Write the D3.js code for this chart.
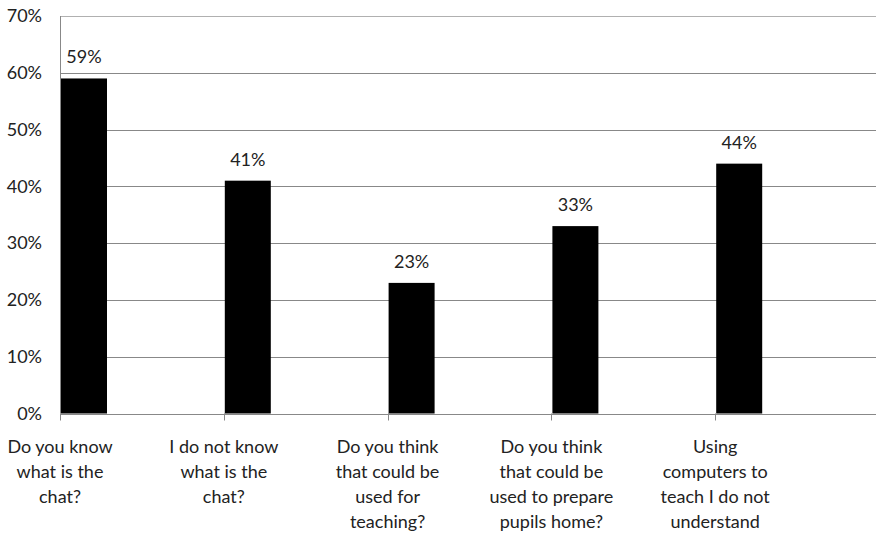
<!DOCTYPE html>
<html>
<head>
<meta charset="utf-8">
<script src="https://cdn.jsdelivr.net/npm/d3@7"></script>
<style>
  body { margin: 0; background: #fff; }
  text { font-family: Lato, "Open Sans", sans-serif; fill: #222; }
</style>
</head>
<body>
<script>
var categories = [
  ["Do you know", "what is the", "chat?"],
  ["I do not know", "what is the", "chat?"],
  ["Do you think", "that could be", "used for", "teaching?"],
  ["Do you think", "that could be", "used to prepare", "pupils home?"],
  ["Using", "computers to", "teach I do not", "understand"]
];
var values = [59, 41, 23, 33, 44];
var yTicks = [0, 10, 20, 30, 40, 50, 60, 70];

var width = 876, height = 533;
var plot = {left: 60, right: 879, top: 16, bottom: 413.5};

var svg = d3.select("body").append("svg")
    .attr("width", width)
    .attr("height", height);

var keys = categories.map(function (d, i) { return i; });

var xScale = d3.scaleBand()
    .domain(keys)
    .range([plot.left, plot.right])
    .paddingInner(0)
    .paddingOuter(0);

var yScale = d3.scaleLinear()
    .domain([0, 70])
    .range([plot.bottom, plot.top]);

// gridlines
svg.append("g")
    .selectAll("line")
    .data(yTicks)
    .enter()
    .append("line")
    .attr("x1", plot.left)
    .attr("x2", width)
    .attr("y1", function (d) { return Math.round(yScale(d)) + 0.5; })
    .attr("y2", function (d) { return Math.round(yScale(d)) + 0.5; })
    .attr("stroke", function (d) { return d === 70 ? "#b0b0b0" : "#888"; })
    .attr("stroke-width", 1.2);

// y labels
svg.append("g")
    .selectAll("text")
    .data(yTicks)
    .enter()
    .append("text")
    .attr("x", 42)
    .attr("y", function (d) { return yScale(d); })
    .attr("dy", "0.35em")
    .attr("text-anchor", "end")
    .style("font-size", "18px")
    .text(function (d) { return d + "%"; });

// y axis line
svg.append("line")
    .attr("x1", plot.left + 0.5).attr("x2", plot.left + 0.5)
    .attr("y1", plot.top).attr("y2", plot.bottom)
    .attr("stroke", "#888");

// category ticks
svg.append("g")
    .selectAll("line")
    .data(keys)
    .enter()
    .append("line")
    .attr("x1", function (d) { return Math.round(xScale(d)) + 0.5; })
    .attr("x2", function (d) { return Math.round(xScale(d)) + 0.5; })
    .attr("y1", plot.bottom)
    .attr("y2", plot.bottom + 7)
    .attr("stroke", "#888");

// bars
var barW = 46;
svg.append("g")
    .selectAll("rect")
    .data(values)
    .enter()
    .append("rect")
    .attr("x", function (d, i) { return xScale(i) + 1; })
    .attr("y", function (d) { return yScale(d); })
    .attr("width", barW)
    .attr("height", function (d) { return plot.bottom - yScale(d); })
    .attr("fill", "#000");

// value labels
svg.append("g")
    .selectAll("text")
    .data(values)
    .enter()
    .append("text")
    .attr("x", function (d, i) { return xScale(i) + 1 + barW / 2; })
    .attr("y", function (d) { return yScale(d) - 15; })
    .attr("text-anchor", "middle")
    .style("font-size", "18px")
    .text(function (d) { return d + "%"; });

// category labels
var catG = svg.append("g")
    .selectAll("text")
    .data(categories)
    .enter()
    .append("text")
    .attr("text-anchor", "middle")
    .style("font-size", "18px");

catG.selectAll("tspan")
    .data(function (d, i) { return d.map(function (line) { return {line: line, i: i}; }); })
    .enter()
    .append("tspan")
    .attr("x", function (d) { return xScale(d.i); })
    .attr("y", function (d, j) { return 453 + j * 25; })
    .text(function (d) { return d.line; });
</script>
</body>
</html>
